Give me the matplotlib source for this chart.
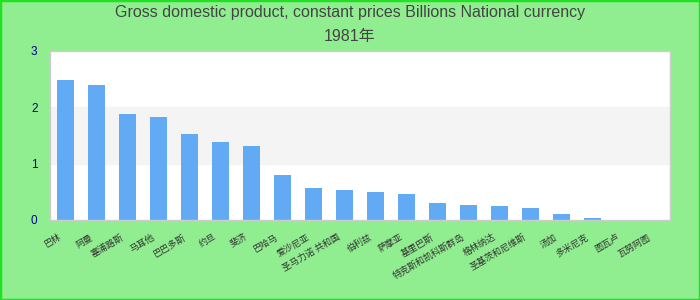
import numpy as np
import matplotlib.pyplot as plt
import matplotlib.transforms as mtrans
from matplotlib.patches import Rectangle

# Datos (año 1981, miles de millones en moneda nacional)
countries = ["巴林", "阿曼", "塞浦路斯", "马耳他", "巴巴多斯",
             "约旦", "斐济", "巴哈马", "爱沙尼亚", "圣马力诺 共和国",
             "伯利兹", "萨摩亚", "基里巴斯", "特克斯和凯科斯群岛", "格林纳达",
             "圣基茨和尼维斯", "汤加", "多米尼克", "图瓦卢", "瓦努阿图"]
values = [2.48, 2.40, 1.88, 1.82, 1.53,
          1.39, 1.31, 0.80, 0.57, 0.54,
          0.50, 0.47, 0.31, 0.27, 0.25,
          0.21, 0.11, 0.04, 0.0, 0.0]
y_ticks = [0, 1, 2, 3]

plt.rcParams['font.family'] = ['Liberation Sans', 'Noto Sans CJK SC', 'DejaVu Sans']

fig = plt.figure(figsize=(7, 3), dpi=100, facecolor='#90ee90')
# Borde verde de la figura
fig.patches.append(Rectangle((0, 0), 1, 1, transform=fig.transFigure,
                             fill=False, edgecolor='#22e022', linewidth=2.5))

ax = fig.add_axes([50 / 700, 80 / 300, 620 / 700, 169 / 300])
ax.set_facecolor('white')

# Bandas alternas del fondo
ax.axhspan(1, 2, color='#f4f4f4', zorder=0)

x = np.arange(len(countries))
ax.bar(x, values, width=0.55, color='#63aaf5', zorder=2)

ax.set_xlim(-0.5, len(countries) - 0.5)
ax.set_ylim(0, 3)
ax.set_yticks(y_ticks)
ax.set_yticklabels([str(t) for t in y_ticks], color='#00008b', fontsize=8.5)
ax.tick_params(axis='y', length=0, pad=9)

ax.set_xticks(x)
ax.set_xticklabels(countries, rotation=30, ha='right', va='top',
                   rotation_mode='anchor', fontsize=6.5, color='#333333',
                   family=['Noto Sans CJK SC', 'DejaVu Sans'])
ax.tick_params(axis='x', length=0, pad=9)
# Desplaza las etiquetas un poco a la izquierda
shift = mtrans.ScaledTranslation(-7 / 100, 0, fig.dpi_scale_trans)
for lbl in ax.get_xticklabels():
    lbl.set_transform(lbl.get_transform() + shift)

for side in ax.spines.values():
    side.set_color('#cccccc')
    side.set_linewidth(1)

fig.text(0.5, 1 - 12 / 300, "Gross domestic product, constant prices Billions National currency",
         ha='center', va='center', fontsize=11.5, color='#444444')
fig.text(0.5, 1 - 36 / 300, "1981年", ha='center', va='center', fontsize=11.5,
         color='#444444')

fig.savefig('out.png', dpi=100, facecolor=fig.get_facecolor())
